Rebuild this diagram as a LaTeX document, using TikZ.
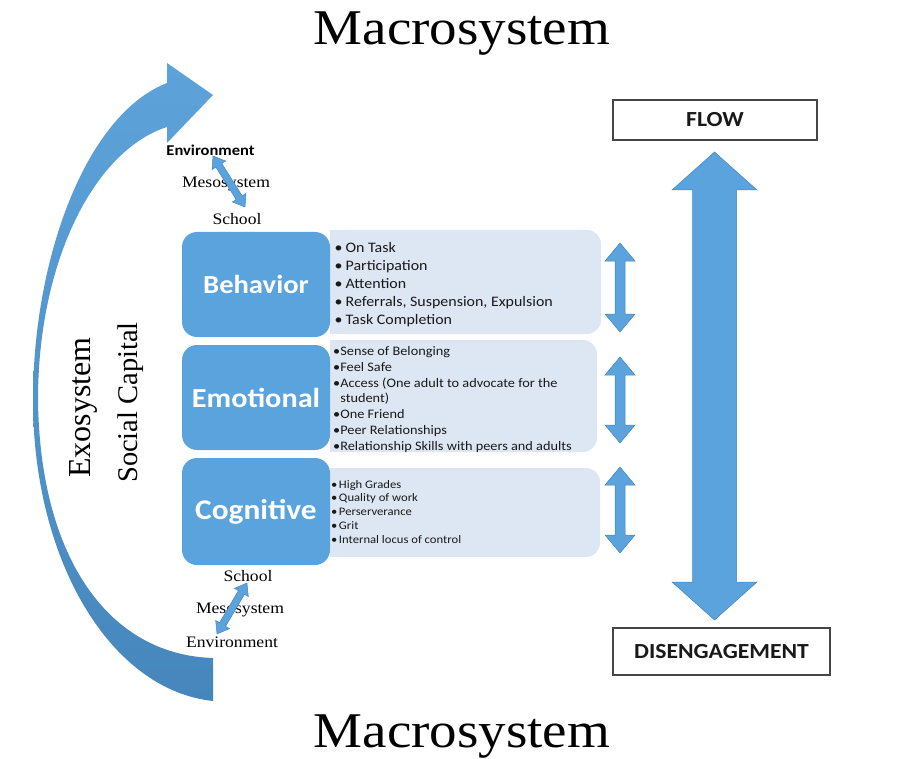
\documentclass[tikz,border=0pt]{standalone}
\usepackage{fontspec}
\setmainfont[FakeStretch=1.1]{Liberation Serif}
\newfontfamily\rotserif{Liberation Serif}
\newfontfamily\calfont[FakeStretch=1.1]{Carlito}
\usetikzlibrary{calc}
\definecolor{blueA}{RGB}{91,163,220}
\definecolor{lite}{RGB}{221,231,243}
\definecolor{arcTop}{RGB}{93,163,218}
\definecolor{arcBot}{RGB}{70,134,188}
\definecolor{arrowEdge}{RGB}{72,132,188}
\definecolor{boxtext}{RGB}{25,25,25}
\definecolor{frameGray}{RGB}{70,70,70}
\newcommand{\FatDArrow}[6]{%
  \path ($(#1)!#5!(#2)$) coordinate (fdaA) ($(#2)!#5!(#1)$) coordinate (fdaB);
  \filldraw[#6] (#1) -- ($(fdaA)!#4!90:(#2)$) -- ($(fdaA)!#3!90:(#2)$)
    -- ($(fdaB)!#3!-90:(#1)$) -- ($(fdaB)!#4!-90:(#1)$) -- (#2)
    -- ($(fdaB)!#4!90:(#1)$) -- ($(fdaB)!#3!90:(#1)$)
    -- ($(fdaA)!#3!-90:(#2)$) -- ($(fdaA)!#4!-90:(#2)$) -- cycle;
}
\tikzset{
  fatarrow/.style={fill=blueA, draw=arrowEdge, line width=0.5pt, line join=miter},
  bluebox/.style={fill=blueA, rounded corners=15pt, inner sep=0pt, text=white,
    font=\calfont\bfseries\fontsize{26}{30}\selectfont},
  litebox/.style={fill=lite, rounded corners=14pt, inner sep=0pt},
  framebox/.style={draw=frameGray, line width=1.1pt, fill=white, inner sep=0pt,
    text=boxtext, font=\calfont\bfseries\fontsize{21.5}{25}\selectfont},
  bigtitle/.style={anchor=base, inner sep=0pt, font=\fontsize{50}{60}\selectfont},
  smalllabel/.style={anchor=base, inner sep=0pt, font=\fontsize{16}{19}\selectfont},
  itemA/.style={anchor=base west, inner sep=0pt, text=boxtext, font=\calfont\fontsize{14.5}{17}\selectfont},
  itemB/.style={anchor=base west, inner sep=0pt, text=boxtext, font=\calfont\fontsize{13}{15}\selectfont},
  itemC/.style={anchor=base west, inner sep=0pt, text=boxtext, font=\calfont\fontsize{11.5}{13}\selectfont},
}
\begin{document}
\begin{tikzpicture}[x=1pt,y=-1pt]
\useasboundingbox (0,0) rectangle (912,759);

% titles
\node[bigtitle] (mtop) at (462,45) {Macrosystem};
\node[bigtitle] (mbot) at (462,747) {Macrosystem};

% big curved arrow
\path[top color=arcTop, bottom color=arcBot]
  (213,658) .. controls (110,655) and (40,560) .. (38,400)
  .. controls (38,260) and (95,150) .. (167,127)
  -- (167,143) -- (213,95) -- (167,63) -- (167,83)
  .. controls (85,115) and (33,260) .. (33,400)
  .. controls (33,560) and (110,690) .. (213,701) -- cycle;

% rotated labels
\node[rotate=90, anchor=base, inner sep=0pt] (exo) at (90,407.5)
  {\rotserif\fontsize{32}{38}\selectfont Exosystem};
\node[rotate=90, anchor=base, inner sep=0pt] (soc) at (137,402.5)
  {\rotserif\fontsize{28.5}{34}\selectfont Social Capital};

% mesosystem labels (top)
\node[smalllabel, font=\calfont\bfseries\fontsize{15}{18}\selectfont] (envT) at (210.5,156) {Environment};
\node[smalllabel] (mesoT) at (226,188) {Mesosystem};
\node[smalllabel] (schT) at (237,225) {School};
\coordinate (mtA) at (213,156);
\coordinate (mtB) at (245,207);
\FatDArrow{mtA}{mtB}{3.5pt}{8pt}{11pt}{fatarrow}

% mesosystem labels (bottom)
\node[smalllabel] (schB) at (248,581) {School};
\node[smalllabel] (mesoB) at (240,613) {Mesosystem};
\node[smalllabel] (envB) at (232,647) {Environment};
\coordinate (mbA) at (247,583);
\coordinate (mbB) at (217,634);
\FatDArrow{mbA}{mbB}{3.5pt}{8pt}{11pt}{fatarrow}

% light boxes
\node[litebox, minimum width=271pt, minimum height=104pt] (litebeh) at (465.5,282) {};
\fill[lite] (330,230) rectangle (350,334);
\node[litebox, minimum width=267pt, minimum height=112pt] (liteemo) at (463.5,396) {};
\fill[lite] (330,340) rectangle (350,452);
\node[litebox, minimum width=270pt, minimum height=89pt] (litecog) at (465,512.5) {};
\fill[lite] (330,468) rectangle (350,557);

% blue boxes
\node[bluebox, minimum width=148pt, minimum height=105pt] (beh) at (256,284.5) {Behavior};
\node[bluebox, minimum width=148pt, minimum height=105pt, font=\calfont\bfseries\fontsize{27.5}{32}\selectfont] (emo) at (256,397.5) {Emotional};
\node[bluebox, minimum width=148pt, minimum height=107pt, font=\calfont\bfseries\fontsize{28.5}{32}\selectfont] (cog) at (256,511.5) {Cognitive};

% item lists
\foreach \t [count=\i] in {{•\hspace{3pt}On Task},{•\hspace{3pt}Participation},{•\hspace{3pt}Attention},{•\hspace{3pt}Referrals, Suspension, Expulsion},{•\hspace{3pt}Task Completion}}
  \node[itemA] (behitem\i) at (334.5,{253+17.75*(\i-1)}) {\t};
\foreach \t [count=\i] in {{•Sense of Belonging},{•Feel Safe},{•Access (One adult to advocate for the},{\phantom{•}student)},{•One Friend},{•Peer Relationships},{•Relationship Skills with peers and adults}}
  \node[itemB] (emoitem\i) at (333,{355.5+15.75*(\i-1)}) {\t};
\foreach \t [count=\i] in {{•\hspace{1.5pt}High Grades},{•\hspace{1.5pt}Quality of work},{•\hspace{1.5pt}Perserverance},{•\hspace{1.5pt}Grit},{•\hspace{1.5pt}Internal locus of control}}
  \node[itemC] (cogitem\i) at (331,{488+13.75*(\i-1)}) {\t};

% small vertical arrows
\coordinate (s1t) at (620,243); \coordinate (s1b) at (620,332);
\coordinate (s2t) at (620,357); \coordinate (s2b) at (620,443);
\coordinate (s3t) at (620,467); \coordinate (s3b) at (620,553);
\FatDArrow{s1t}{s1b}{5pt}{15pt}{18pt}{fatarrow}
\FatDArrow{s2t}{s2b}{5pt}{15pt}{18pt}{fatarrow}
\FatDArrow{s3t}{s3b}{5pt}{15pt}{18pt}{fatarrow}

% FLOW / DISENGAGEMENT
\node[framebox, minimum width=204pt, minimum height=40pt] (flow) at (715,120) {FLOW};
\node[framebox, minimum width=217pt, minimum height=47pt] (dis) at (721.5,651.5) {DISENGAGEMENT};
\coordinate (bigT) at (714.5,152);
\coordinate (bigB) at (714.5,620);
\FatDArrow{bigT}{bigB}{22pt}{42.5pt}{38pt}{fatarrow}
\end{tikzpicture}
\end{document}
